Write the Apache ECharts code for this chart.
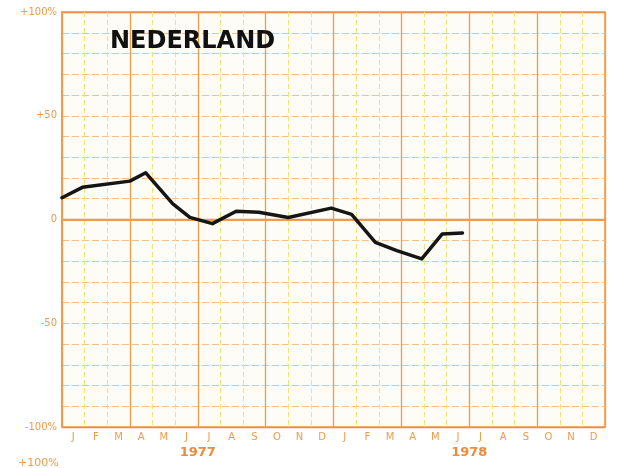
<!DOCTYPE html>
<html>
<head>
<meta charset="utf-8">
<script src="https://cdn.jsdelivr.net/npm/echarts@6/dist/echarts.min.js"></script>
<style>
html, body { margin: 0; padding: 0; background: #fff; }
#chart { width: 617px; height: 468px; }
</style>
</head>
<body>
<div id="chart"></div>
<script>
// data (month position from Jan 1977, % change)
var months = ['J','F','M','A','M','J','J','A','S','O','N','D','J','F','M','A','M','J','J','A','S','O','N','D'];
var years = ['1977', '1978'];
var monthPos = [0, 0.9, 3.0, 3.7, 4.9, 5.65, 6.65, 7.7, 8.7, 10.0, 11.9, 12.8, 13.85, 14.8, 15.9, 16.8, 17.7];
var change = [10.5, 15.5, 18.5, 22.5, 7.5, 1, -2, 4, 3.5, 1, 5.5, 2.5, -11, -15, -19, -7, -6.5];

var orange = '#f29a48';
var chart = echarts.init(document.getElementById('chart'));

var points = monthPos.map(function (m, i) { return [m, change[i]]; });

var option = {
    animation: false,
    backgroundColor: '#ffffff',
    grid: {
        left: 62, right: 12, top: 12, bottom: 41,
        show: true,
        backgroundColor: '#fdfcf6',
        borderColor: orange,
        borderWidth: 1.5
    },
    graphic: [
        {
            type: 'text', left: 110, top: 30, z: 20,
            style: { text: 'NEDERLAND', fill: '#111', font: 'bold 24px "DejaVu Sans"' }
        },
        {
            type: 'text', left: 18, top: 458,
            style: { text: '+100%', fill: orange, font: '11px "DejaVu Sans"' }
        }
    ],
    xAxis: [
        {
            type: 'category',
            data: months,
            boundaryGap: true,
            z: 2,
            axisLine: { show: true, lineStyle: { color: orange, width: 2 } },
            axisTick: { show: false },
            axisLabel: { interval: 0, color: orange, fontSize: 10, margin: 5, fontFamily: 'DejaVu Sans' },
            splitLine: {
                show: true,
                interval: function (i) { return i % 3 === 0; },
                lineStyle: { color: orange, width: 1.3, type: 'solid' }
            }
        },
        {
            type: 'value',
            min: 0, max: 24, interval: 1,
            z: 1,
            axisLine: { show: false },
            axisTick: { show: false },
            axisLabel: { show: false },
            splitLine: { show: true, lineStyle: { color: '#f4e07c', width: 1, type: [5, 3] } }
        },
        {
            type: 'category',
            data: years,
            boundaryGap: true,
            position: 'bottom',
            offset: 13,
            axisLine: { show: false },
            axisTick: { show: false },
            axisLabel: { color: '#ee8a3a', fontSize: 13, fontWeight: 'bold', margin: 6, fontFamily: 'DejaVu Sans' },
            splitLine: { show: false }
        }
    ],
    yAxis: [
        {
            type: 'value',
            min: -100, max: 100, interval: 10,
            axisLine: { show: true, lineStyle: { color: orange, width: 2 } },
            axisTick: { show: false },
            axisLabel: {
                color: orange, fontSize: 10, margin: 5, fontFamily: 'DejaVu Sans',
                formatter: function (v) {
                    if (v === 100) return '+100%';
                    if (v === 50) return '+50';
                    if (v === 0) return '0';
                    if (v === -50) return '-50';
                    if (v === -100) return '-100%';
                    return '';
                }
            },
            splitLine: { show: true, lineStyle: { color: '#f4bf8e', width: 1, type: [7, 3] } }
        },
        {
            type: 'value',
            min: -100, max: 100, interval: 100,
            axisLine: { show: false },
            axisTick: { show: false },
            axisLabel: { show: false },
            splitLine: { show: true, lineStyle: { color: '#f08c4a', width: 1.3 } }
        }
    ],
    series: [
        {
            type: 'line',
            xAxisIndex: 1,
            yAxisIndex: 0,
            data: points,
            symbol: 'none',
            z: 10,
            lineStyle: { color: '#151515', width: 3.5, join: 'round', cap: 'round' }
        }
    ]
};

chart.setOption(option);
</script>
</body>
</html>
